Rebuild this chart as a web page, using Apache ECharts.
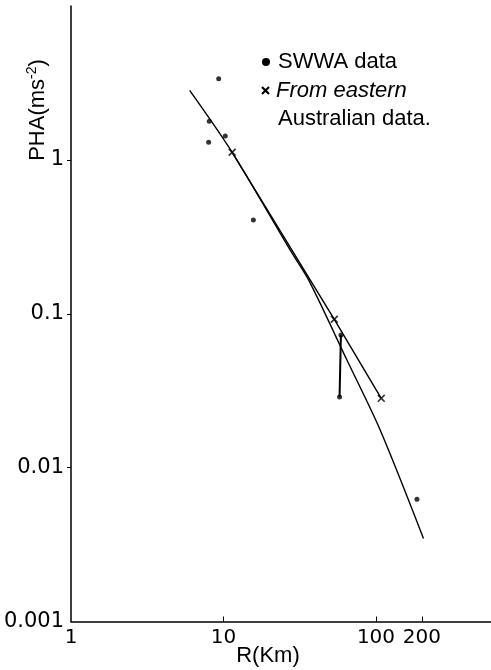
<!DOCTYPE html>
<html>
<head>
<meta charset="utf-8">
<script src="https://cdn.jsdelivr.net/npm/echarts@6/dist/echarts.min.js"></script>
<style>
html,body{margin:0;padding:0;background:#fff;}
#chart{width:491px;height:670px;}
</style>
</head>
<body>
<div id="chart"></div>
<script>
// ---- data ----
const swwaPoints = [[9.3, 3.37], [8.07, 1.78], [10.27, 1.43], [7.99, 1.30], [15.7, 0.407], [58.9, 0.0727], [57.7, 0.0288], [185.7, 0.00623]];
const swwaRange = [[58.9, 0.0727], [57.7, 0.0288]];
const easternPoints = [[11.4, 1.12], [53.3, 0.092], [108.3, 0.0282]];
const fitCurve = [[6.0, 2.83], [11.4, 1.12], [27.4, 0.259], [36.5, 0.163], [64.5, 0.050], [106.7, 0.0175], [205, 0.00346]];
const xTickValues = [1, 10, 100, 200];
const xTickLabels = ['1', '10', '100', '200'];
const yTickValues = [0.001, 0.01, 0.1, 1];
const yTickLabels = ['0.001', '0.01', '0.1', '1'];
const legendLabels = ['SWWA data', 'From eastern', 'Australian data.'];
const xAxisTitle = 'R(Km)';

function pickLabel(values, labels, v) {
  let best = 0, bd = Infinity;
  for (let i = 0; i < values.length; i++) {
    const d = Math.abs(Math.log10(values[i]) - Math.log10(v));
    if (d < bd) { bd = d; best = i; }
  }
  return labels[best];
}

const FONT = '"Liberation Sans", Arial, sans-serif';
const NUMFONT = '"DejaVu Sans", sans-serif';
const crossPath = 'path://M0,1.5 L1.5,0 L5,3.5 L8.5,0 L10,1.5 L6.5,5 L10,8.5 L8.5,10 L5,6.5 L1.5,10 L0,8.5 L3.5,5 Z';

const chart = echarts.init(document.getElementById('chart'), null, {renderer: 'canvas'});
chart.setOption({
  backgroundColor: '#fff',
  animation: false,
  grid: {left: 71, right: 0, top: 6, bottom: 48.5, containLabel: false},
  xAxis: {
    type: 'log', logBase: 10, min: 1, max: 568,
    axisLine: {lineStyle: {color: '#000', width: 1.5}},
    axisTick: {show: true, inside: true, length: 5, customValues: [10, 100, 200], lineStyle: {color: '#000', width: 1}},
    minorTick: {show: false},
    splitLine: {show: false},
    axisLabel: {
      customValues: xTickValues,
      formatter: v => pickLabel(xTickValues, xTickLabels, v),
      color: '#000', fontFamily: NUMFONT, fontSize: 20, margin: 6
    }
  },
  yAxis: {
    type: 'log', logBase: 10, min: 0.001, max: 10,
    axisLine: {lineStyle: {color: '#000', width: 1.5}},
    axisTick: {show: true, inside: false, length: 4, customValues: [0.01, 0.1, 1], lineStyle: {color: '#000', width: 1}},
    splitLine: {show: false},
    axisLabel: {
      customValues: yTickValues,
      formatter: v => pickLabel(yTickValues, yTickLabels, v),
      color: '#000', fontFamily: NUMFONT, fontSize: 21, margin: 7
    }
  },
  series: [
    {
      type: 'line', data: fitCurve, smooth: 0.3, showSymbol: false, symbol: 'none',
      lineStyle: {color: '#000', width: 1.4}, z: 2
    },
    {
      type: 'line', data: easternPoints, smooth: false, showSymbol: false, symbol: 'none',
      lineStyle: {color: '#000', width: 1.4}, z: 2
    },
    {
      type: 'line', data: swwaRange, smooth: false, showSymbol: false, symbol: 'none',
      lineStyle: {color: '#000', width: 2}, z: 2
    },
    {
      type: 'scatter', data: swwaPoints, symbol: 'circle', symbolSize: 5,
      itemStyle: {color: '#000'}, z: 3
    },
    {
      type: 'scatter', data: easternPoints, symbol: crossPath, symbolSize: 8,
      itemStyle: {color: '#000'}, z: 3
    }
  ],
  graphic: [
    {type: 'circle', shape: {cx: 266, cy: 62, r: 4}, style: {fill: '#000'}},
    {type: 'text', x: 278, y: 62, style: {text: legendLabels[0], font: '22px ' + FONT, fill: '#000', verticalAlign: 'middle', align: 'left'}},
    {type: 'line', shape: {x1: 262, y1: 87, x2: 269, y2: 94}, style: {stroke: '#000', lineWidth: 2.2}},
    {type: 'line', shape: {x1: 269, y1: 87, x2: 262, y2: 94}, style: {stroke: '#000', lineWidth: 2.2}},
    {type: 'text', x: 276, y: 91, style: {text: legendLabels[1], font: 'italic 22px ' + FONT, fill: '#000', verticalAlign: 'middle', align: 'left'}},
    {type: 'text', x: 278, y: 119, style: {text: legendLabels[2], font: '22px ' + FONT, fill: '#000', verticalAlign: 'middle', align: 'left'}},
    {
      type: 'text', x: 37, y: 110, rotation: Math.PI / 2,
      style: {
        text: '{a|PHA(ms}{s|-2}{a|)}',
        align: 'center', verticalAlign: 'middle',
        rich: {
          a: {font: '22px ' + FONT, fill: '#000', verticalAlign: 'bottom'},
          s: {font: '14px ' + FONT, fill: '#000', verticalAlign: 'top', padding: [0, 0, 10, 0]}
        }
      }
    },
    {type: 'text', x: 268, y: 656, style: {text: xAxisTitle, font: '22px ' + FONT, fill: '#000', align: 'center', verticalAlign: 'middle'}}
  ]
});
</script>
</body>
</html>
